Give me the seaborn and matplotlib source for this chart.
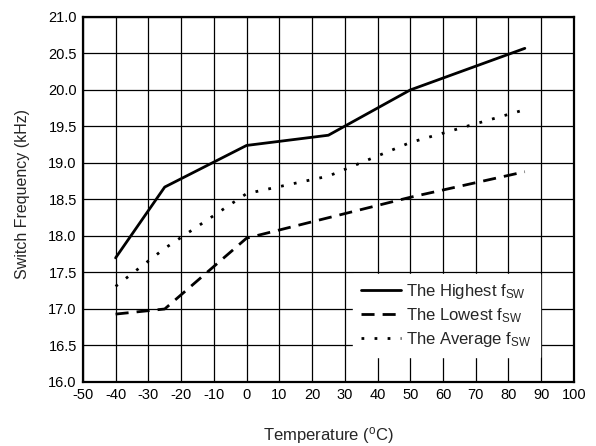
import matplotlib
matplotlib.use("Agg")
import matplotlib.pyplot as plt
import seaborn as sns
import pandas as pd
import numpy as np

temps = [-40, -25, 0, 25, 50, 85]
highest = [17.70, 18.67, 19.24, 19.38, 20.00, 20.57]
lowest = [16.93, 17.00, 17.97, 18.25, 18.53, 18.88]
average = [17.31, 17.83, 18.58, 18.82, 19.28, 19.73]
labels = ["The Highest f$_{\\rm SW}$", "The Lowest f$_{\\rm SW}$", "The Average f$_{\\rm SW}$"]
xticks = list(range(-50, 101, 10))
yticks = [16.0, 16.5, 17.0, 17.5, 18.0, 18.5, 19.0, 19.5, 20.0, 20.5, 21.0]

sns.set_theme(style="white")
plt.rcParams['font.family'] = ['Liberation Sans', 'DejaVu Sans']
plt.rcParams['mathtext.fontset'] = 'custom'
plt.rcParams['mathtext.rm'] = 'Liberation Sans'
plt.rcParams['mathtext.it'] = 'Liberation Sans:italic'

df = pd.DataFrame({
    "Temperature": temps * 3,
    "Freq": highest + lowest + average,
    "Series": [labels[0]] * len(temps) + [labels[1]] * len(temps) + [labels[2]] * len(temps),
})

fig = plt.figure(figsize=(5.96, 4.46), dpi=100)
ax = fig.add_axes([0.139, 0.1435, 0.824, 0.8185])

LW = 2.0
dashes = {labels[0]: "", labels[1]: (4.7, 2.9), labels[2]: (1.0, 3.7)}
sns.lineplot(data=df, x="Temperature", y="Freq", hue="Series", style="Series",
             palette=["black"] * 3, dashes=dashes, linewidth=LW, ax=ax,
             legend=True)
for ln in ax.lines:
    ln.set_dash_capstyle('butt')

ax.set_xlim(-50, 100)
ax.set_ylim(16.0, 21.0)
ax.set_xticks(xticks)
ax.set_xticklabels([str(v) for v in xticks])
ax.set_yticks(yticks)
ax.set_yticklabels([f"{v:.1f}" for v in yticks])
ax.grid(True, color="black", linewidth=0.9)
ax.set_axisbelow(True)
for s in ax.spines.values():
    s.set_color("black")
    s.set_linewidth(1.6)
ax.tick_params(axis="both", length=0, pad=4.3, labelsize=10.5, colors="black")

ax.set_xlabel("Temperature ($^{\\rm o}$C)", fontsize=12)
ax.xaxis.set_label_coords(0.5, -0.117)
ax.set_ylabel("Switch Frequency (kHz)", fontsize=11.5)
ax.yaxis.set_label_coords(-0.108, 0.515)

leg = ax.legend(loc="upper left", bbox_to_anchor=(0.55, 0.296), frameon=True,
                fancybox=False, framealpha=1, edgecolor="white", facecolor="white",
                fontsize=12, handlelength=2.4, borderpad=0.5, labelspacing=0.3,
                handletextpad=0.3, borderaxespad=0)
for h in leg.get_lines():
    h.set_linewidth(LW)
    h.set_color("black")

fig.savefig("out.png", dpi=100)
